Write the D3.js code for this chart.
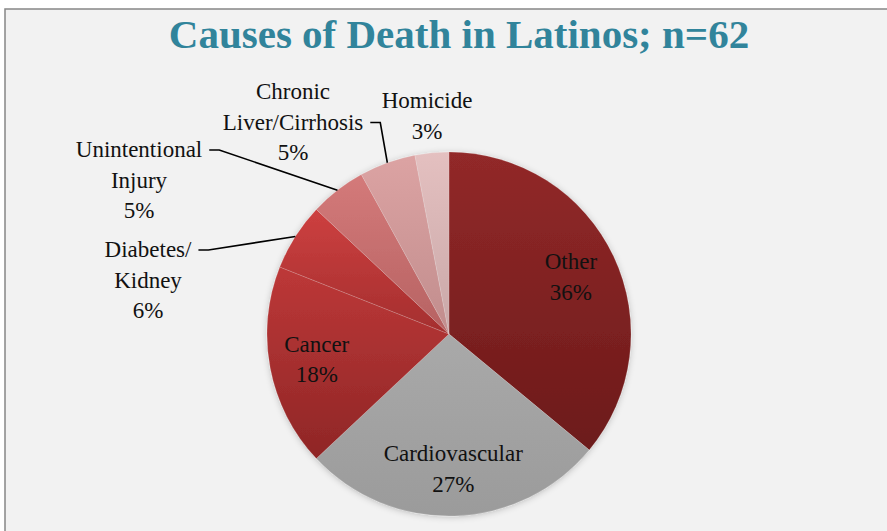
<!DOCTYPE html>
<html>
<head>
<meta charset="utf-8">
<script src="https://cdn.jsdelivr.net/npm/d3@7"></script>
<style>
	html, body { margin: 0; padding: 0; background: #fff; }
	svg { display: block; }
</style>
</head>
<body>
<div id="container"></div>
<script>
// data (shares in %, n = 62)
const causes = ['Other', 'Cardiovascular', 'Cancer', 'Diabetes/Kidney', 'Unintentional Injury', 'Chronic Liver/Cirrhosis', 'Homicide'];
const shares = [36, 27, 18, 6, 5, 5, 3];
const sampleSize = 62;
const labelLines = [['Other'], ['Cardiovascular'], ['Cancer'], ['Diabetes/', 'Kidney'], ['Unintentional', 'Injury'], ['Chronic', 'Liver/Cirrhosis'], ['Homicide']];
const topColors = ['#922929', '#a9a9a9', '#bd3838', '#cd4040', '#d47a7a', '#dca3a3', '#e4c0c0'];
const bottomColors = ['#6c1a1a', '#9b9b9b', '#8f2626', '#a42e2e', '#b66262', '#c18d8d', '#c9a8a8'];

const W = 887, H = 531;
const CX = 449, CY = 334, R = 182;
const FONT = '"Liberation Serif", "DejaVu Serif", serif';
const LINE = 30.5;

// outside labels: offset of the first baseline from the pie centre (null = inside the pie)
const outside = [null, null, null, [-301, -77], [-310, -177], [-156, -235], [-22, -226]];
// which text line the leader line leaves from (-1 = no leader)
const leaderLine = [-1, -1, -1, 0, 0, 1, -1];

const svg = d3.select('#container').append('svg')
	.attr('width', W)
	.attr('height', H);

const defs = svg.append('defs');
const shadow = defs.append('filter').attr('id', 'shadow')
	.attr('x', '-20%').attr('y', '-20%').attr('width', '140%').attr('height', '140%');
shadow.append('feDropShadow')
	.attr('dx', 0).attr('dy', 1)
	.attr('stdDeviation', 3)
	.attr('flood-color', '#000')
	.attr('flood-opacity', 0.22);

causes.forEach((c, i) => {
	const g = defs.append('linearGradient')
		.attr('id', 'grad' + i)
		.attr('x1', 0).attr('y1', 0).attr('x2', 0).attr('y2', 1);
	g.append('stop').attr('offset', '0%').attr('stop-color', topColors[i]);
	g.append('stop').attr('offset', '100%').attr('stop-color', bottomColors[i]);
});

// chart area + border
svg.append('rect')
	.attr('x', 5).attr('y', 9)
	.attr('width', W + 20).attr('height', H + 20)
	.attr('fill', '#f2f2f2')
	.attr('stroke', '#868686')
	.attr('stroke-width', 1.5);

svg.append('text')
	.attr('x', 459).attr('y', 48)
	.attr('text-anchor', 'middle')
	.style('font-family', FONT)
	.style('font-weight', 'bold')
	.style('font-size', '41px')
	.attr('fill', '#31849b')
	.text('Causes of Death in Latinos; n=' + sampleSize);

const pie = d3.pie().sort(null).value(d => d)(shares);
const arc = d3.arc().innerRadius(0).outerRadius(R);
const labelArc = d3.arc().innerRadius(R * 0.74).outerRadius(R * 0.74);
const edgeArc = d3.arc().innerRadius(R).outerRadius(R);
const pct = v => v + '%';

const g = svg.append('g').attr('transform', `translate(${CX},${CY})`);

g.append('g').attr('filter', 'url(#shadow)')
	.selectAll('path')
	.data(pie)
	.join('path')
	.attr('d', arc)
	.attr('fill', (d, i) => `url(#grad${i})`)
	.attr('stroke', '#ffffff')
	.attr('stroke-opacity', 0.25)
	.attr('stroke-width', 0.6);

const labels = g.append('g');

pie.forEach((d, i) => {
	const lines = labelLines[i].concat([pct(d.value)]);
	const t = labels.append('text')
		.attr('text-anchor', 'middle')
		.style('font-family', FONT)
		.style('font-size', '23px')
		.attr('fill', '#111');
	if (!outside[i]) {
		const [x, y] = labelArc.centroid(d);
		lines.forEach((s, k) => {
			t.append('tspan')
				.attr('x', x)
				.attr('y', y - (lines.length - 1) * LINE / 2 + k * LINE + 8)
				.text(s);
		});
		return;
	}
	const [ox, oy] = outside[i];
	lines.forEach((s, k) => {
		t.append('tspan')
			.attr('x', ox)
			.attr('y', oy + k * LINE)
			.text(s);
	});
	const li = leaderLine[i];
	if (li >= 0) {
		const node = t.selectAll('tspan').nodes()[li];
		const w = node.getComputedTextLength();
		const x0 = ox + w / 2 + 7;
		const yl = oy + li * LINE - 7;
		const [ex, ey] = edgeArc.centroid(d);
		g.append('path')
			.attr('d', d3.line()([[x0, yl], [x0 + 10, yl], [ex, ey]]))
			.attr('fill', 'none')
			.attr('stroke', '#000')
			.attr('stroke-width', 1.6);
	}
});
</script>
</body>
</html>
